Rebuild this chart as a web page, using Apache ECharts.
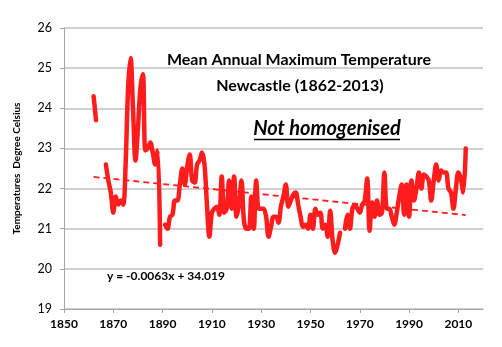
<!DOCTYPE html>
<html>
<head>
<meta charset="utf-8">
<script src="https://cdn.jsdelivr.net/npm/echarts@6/dist/echarts.min.js"></script>
<style>
html,body{margin:0;padding:0;background:#fff;}
#chart{width:502px;height:347px;}
</style>
</head>
<body>
<div id="chart"></div>
<script>
// ---- data ----
const firstYear = 1862;
const tempValues = [
  24.3, 23.7, null, null, null, 22.6, 22.2, 21.9, 21.4, 21.8,      // 1862-1871
  21.6, 21.7, 21.6, 22.6, 24.5, 25.25, 24.0, 22.7, 23.5, 24.5,     // 1872-1881
  24.85, 22.95, 23.0, 23.15, 22.9, 22.6, 22.95, 20.6, null, 21.1,  // 1882-1891
  21.0, 21.3, 21.35, 21.7, 21.7, 22.1, 22.5, 22.1, 22.55, 22.85,   // 1892-1901
  22.2, 22.15, 22.6, 22.7, 22.9, 22.6, 21.6, 20.8, 21.4, 21.5,     // 1902-1911
  21.55, 21.35, 22.3, 21.4, 21.5, 22.2, 21.5, 22.3, 21.3, 21.6,    // 1912-1921
  22.2, 21.2, 21.0, 21.0, 21.8, 21.0, 22.2, 21.5, 21.5, 21.5,      // 1922-1931
  21.3, 20.8, 21.05, 21.3, 21.3, 21.15, 21.55, 21.8, 22.1, 21.55,  // 1932-1941
  21.7, 21.85, 21.9, 21.6, 21.3, 21.05, 21.1, 21.0, 21.35, 21.0,   // 1942-1951
  21.5, 21.35, 21.4, 21.0, 21.1, 20.8, 21.45, 20.7, 20.4, 20.6,    // 1952-1961
  20.9, null, 21.0, 21.35, 21.0, 21.5, 21.6, 21.5, 21.4, 21.6,     // 1962-1971
  21.7, 22.25, 20.95, 21.65, 21.3, 21.7, 21.35, 21.4, 22.4, 21.5,  // 1972-1981
  21.5, 21.3, 21.1, 21.4, 21.8, 22.1, 21.35, 22.1, 21.3, 22.2,     // 1982-1991
  21.7, 22.0, 22.4, 22.0, 22.35, 22.3, 22.2, 21.7, 22.2, 22.6,     // 1992-2001
  22.2, 22.45, 22.4, 22.4, 22.0, 21.9, 21.5, 22.0, 22.4, 22.25,    // 2002-2011
  21.9, 23.0                                                       // 2012-2013
];
const trendYears = [1862, 2013];
const trendValues = [22.29, 21.34];
const xTicks = [1850, 1870, 1890, 1910, 1930, 1950, 1970, 1990, 2010];
const titleLines = ['Mean Annual Maximum Temperature', 'Newcastle (1862-2013)'];
const subtitleText = 'Not homogenised';
const equationText = 'y = -0.0063x + 34.019';
const yAxisName = 'Temperatures  Degree Celsius';

// ---- build ----
const tempData = tempValues.map((v, i) => [firstYear + i, v]);
const trendData = trendYears.map((y, i) => [y, trendValues[i]]);
const FONT = 'Lato';
const RED = '#ff1c1c';

const chart = echarts.init(document.getElementById('chart'), null, {renderer: 'canvas'});
chart.setOption({
  backgroundColor: '#ffffff',
  animation: false,
  grid: {left: 64, right: 19, top: 28, bottom: 38},
  xAxis: {
    type: 'value', min: 1850, max: 2020,
    axisLine: {show: true, lineStyle: {color: '#a6a6a6', width: 1}},
    axisTick: {show: true, length: 4, lineStyle: {color: '#a6a6a6'}, customValues: xTicks},
    axisLabel: {customValues: xTicks, formatter: v => String(v), fontFamily: FONT, fontWeight: 'bold', fontSize: 12, color: '#000', margin: 9},
    splitLine: {show: false}
  },
  yAxis: {
    type: 'value', min: 19, max: 26, interval: 1,
    name: yAxisName, nameLocation: 'middle', nameGap: 42, nameRotate: 90,
    nameTextStyle: {fontFamily: FONT, fontWeight: 'bold', fontSize: 10, color: '#000'},
    axisLine: {show: true, lineStyle: {color: '#a6a6a6', width: 1}},
    axisTick: {show: true, length: 4, lineStyle: {color: '#a6a6a6'}},
    axisLabel: {fontFamily: FONT, fontSize: 12.5, color: '#000', margin: 12},
    splitLine: {show: true, lineStyle: {color: '#c0c0c0', width: 1.5}}
  },
  series: [
    {
      type: 'line', data: tempData, smooth: 0.35, connectNulls: false,
      showSymbol: false, symbol: 'none',
      lineStyle: {color: RED, width: 4.5, cap: 'round', join: 'round'},
      z: 3
    },
    {
      type: 'line', data: trendData, showSymbol: false, symbol: 'none',
      lineStyle: {color: RED, width: 1.8, type: [6, 4]},
      z: 2
    }
  ],
  graphic: [
    {type: 'text', x: 299, y: 60, style: {text: titleLines[0], font: 'bold 16px ' + FONT, fill: '#000', align: 'center', verticalAlign: 'middle'}, z: 10},
    {type: 'text', x: 300, y: 86, style: {text: titleLines[1], font: 'bold 16px ' + FONT, fill: '#000', align: 'center', verticalAlign: 'middle'}, z: 10},
    {type: 'text', x: 327, y: 129, style: {text: subtitleText, font: 'italic bold 20px ' + FONT, fill: '#000', align: 'center', verticalAlign: 'middle'}, z: 10},
    {type: 'line', shape: {x1: 254, y1: 139.5, x2: 400, y2: 139.5}, style: {stroke: '#000', lineWidth: 1.5}, z: 10},
    {type: 'text', x: 107, y: 276, style: {text: equationText, font: 'bold 12px ' + FONT, fill: '#000', align: 'left', verticalAlign: 'middle'}, z: 10}
  ]
});
</script>
</body>
</html>
